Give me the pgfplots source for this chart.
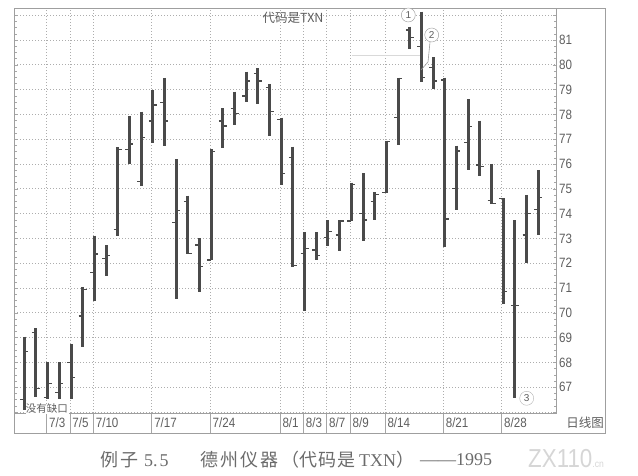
\documentclass[border=0pt]{standalone}
\usepackage{fontspec}
\setmainfont{Liberation Sans}
\newfontfamily\narrow[FakeStretch=0.86]{Liberation Sans}
\newfontfamily\cjk{Noto Sans CJK SC}
\newfontfamily\serif{Liberation Serif}
\usepackage{pgfplots}
\usepackage{pgfplotstable}
\pgfplotsset{compat=1.18}

\definecolor{barcol}{HTML}{4A4A4A}
\definecolor{txt}{HTML}{5E5E5E}
\definecolor{gridc}{HTML}{ADADAD}

% open tick to the left, close tick to the right
\pgfdeclareplotmark{openl}{\pgfpathmoveto{\pgfqpoint{-4pt}{0pt}}\pgfpathlineto{\pgfqpoint{0pt}{0pt}}\pgfusepathqstroke}
\pgfdeclareplotmark{closer}{\pgfpathmoveto{\pgfqpoint{0pt}{0pt}}\pgfpathlineto{\pgfqpoint{4pt}{0pt}}\pgfusepathqstroke}

% TXN daily bars, summer 1995
\pgfplotstableread{
i  open  high  low   close
0  66.50 69.04 66.10 68.43
1  69.20 69.37 66.62 66.96
2  66.60 68.00 66.52 67.16
3  66.80 68.00 66.52 67.16
4  68.00 68.74 66.52 67.40
5  69.87 71.05 68.61 70.95
6  71.63 73.11 70.49 72.37
7  72.20 72.73 71.48 72.30
8  73.37 76.67 73.11 76.60
9  76.59 77.94 76.00 76.81
10 75.30 78.11 75.12 77.08
11 77.73 78.98 76.86 78.38
12 78.47 79.47 76.74 77.73
13 73.63 76.19 70.56 74.12
14 74.50 74.72 72.37 72.40
15 72.73 73.00 70.85 71.86
16 72.13 76.60 72.13 76.50
17 77.73 78.25 76.63 77.53
18 78.25 78.92 77.57 78.04
19 78.74 79.72 78.51 79.35
20 79.66 79.86 78.42 79.35
21 79.09 79.23 77.13 78.11
22 77.80 77.87 75.15 75.62
23 76.27 76.70 71.86 71.90
24 72.40 73.25 70.09 72.60
25 72.53 73.25 72.13 72.30
26 73.04 73.74 72.69 73.27
27 73.14 73.74 72.50 73.70
28 73.70 75.25 73.70 75.18
29 74.01 75.62 72.91 73.74
30 74.48 74.86 73.74 74.78
31 74.84 76.94 74.84 76.90
32 77.88 79.48 76.77 79.45
33 81.40 81.54 80.62 81.10
34 80.73 82.14 79.32 79.50
35 79.90 80.30 79.01 79.35
36 79.39 79.48 72.64 73.78
37 75.02 76.74 74.15 76.52
38 76.87 78.62 75.76 77.50
39 75.96 77.75 75.53 75.90
40 74.52 76.00 74.39 74.40
41 74.60 74.62 70.35 70.85
42 70.31 73.74 66.55 70.30
43 73.14 74.75 72.00 74.00
44 74.15 75.76 73.14 74.64
}\txn

\begin{document}
\begin{tikzpicture}[x=1pt,y=1pt]
\path[use as bounding box] (0,0) rectangle (638,476);
% outer frame with date strip and price strip
\draw[gray!75, line width=0.7pt] (14,43) rectangle (605,468);
% separators in the date strip
\foreach \sx in {46.7,70,93.3,151.7,210,280,303.3,326.7,350,385,443.3,501.7}
  \draw[gray!70, line width=0.6pt] (\sx,63) -- (\sx,43);

\begin{axis}[
  at={(14pt,63pt)}, anchor=south west,
  scale only axis, width=542.7pt, height=405pt,
  xmin=-0.88, xmax=45.58, ymin=65.96, ymax=82.29,
  axis line style={gray!75, line width=0.7pt},
  xtick={1.92,3.91,5.91,10.91,15.91,21.89,23.89,25.89,27.89,30.88,35.87,40.87},
  xticklabels={7/3,7/5,7/10,7/17,7/24,8/1,8/3,8/7,8/9,8/14,8/21,8/28},
  xtick style={draw=none},
  xticklabel style={anchor=north west, xshift=-1pt, yshift=-1.5pt},
  ytick={66,...,82},
  yticklabels={,67,68,69,70,71,72,73,74,75,76,77,78,79,80,81,},
  yticklabel pos=right,
  ytick pos=both,
  minor y tick num=3,
  tick align=inside,
  major tick length=4pt, minor tick length=2.5pt,
  ytick style={gray!70, line width=0.5pt},
  yticklabel style={xshift=-1pt},
  ticklabel style={font=\narrow\fontsize{13.5}{13.5}\selectfont, text=txt},
  /pgf/number format/assume math mode=true,
  xmajorgrids, ymajorgrids,
  major grid style={gridc, line width=0.6pt, dash pattern=on 1pt off 2pt},
]
% high-low bars
\addplot[draw=none, mark=none, forget plot,
  error bars/.cd, y dir=minus, y explicit, error mark=none,
  error bar style={line width=3pt, color=barcol}]
  table[x=i, y=high, y error minus expr={\thisrow{high}-\thisrow{low}}] {\txn};
% open and close ticks
\addplot[only marks, mark=openl, mark options={line width=1.2pt, color=barcol}] table[x=i, y=open] {\txn};
\addplot[only marks, mark=closer, mark options={line width=1.2pt, color=barcol}] table[x=i, y=close] {\txn};
\end{axis}

% annotations
\node[text=txt, font=\cjk\fontsize{12.5}{13}\selectfont] at (293,458) {代码是TXN};
\node[text=txt, font=\cjk\fontsize{12.5}{12}\selectfont] at (585,53) {日线图};
\node[text=txt, fill=white, inner sep=0.5pt, font=\cjk\fontsize{10.5}{11}\selectfont] at (47,67) {没有缺口};
\node[circle, draw=gray!80, fill=white, text=txt, inner sep=0.6pt, minimum size=14pt, font=\fontsize{10}{10}\selectfont] at (408.3,461) {1};
\node[circle, draw=gray!80, fill=white, text=txt, inner sep=0.6pt, minimum size=14pt, font=\fontsize{10}{10}\selectfont] at (431.7,441) {2};
\node[circle, draw=gray!60, fill=white, text=txt, inner sep=0.6pt, minimum size=14pt, font=\fontsize{10}{10}\selectfont] at (526.7,77.7) {3};
\draw[gray!80, line width=0.6pt] (430,434) -- (428,414) -- (421,406);
\draw[gray!30, line width=0.5pt] (352,421) -- (420,421);

% caption and watermark
\begin{scope}[every node/.style={text=black!58, anchor=west, inner sep=0pt, font=\fontsize{18}{18}\selectfont}]
\node at (100,16) {\cjk 例\hspace{2pt}子\hspace{6pt}\serif 5.\hspace{2pt}5};
\node at (200,16) {\cjk 德\hspace{2pt}州\hspace{2pt}仪\hspace{2pt}器};
\node at (281,16) {\cjk （代\hspace{1pt}码\hspace{1pt}是\hspace{4pt}\serif TXN\cjk ）};
\node at (420,16) {\serif ——1995};
\end{scope}
\node[text=black!16, anchor=west, inner sep=0pt, font=\narrow\fontsize{26}{26}\selectfont] at (528,17) {ZX110\fontsize{10}{10}\selectfont.cn};
\end{tikzpicture}
\end{document}
